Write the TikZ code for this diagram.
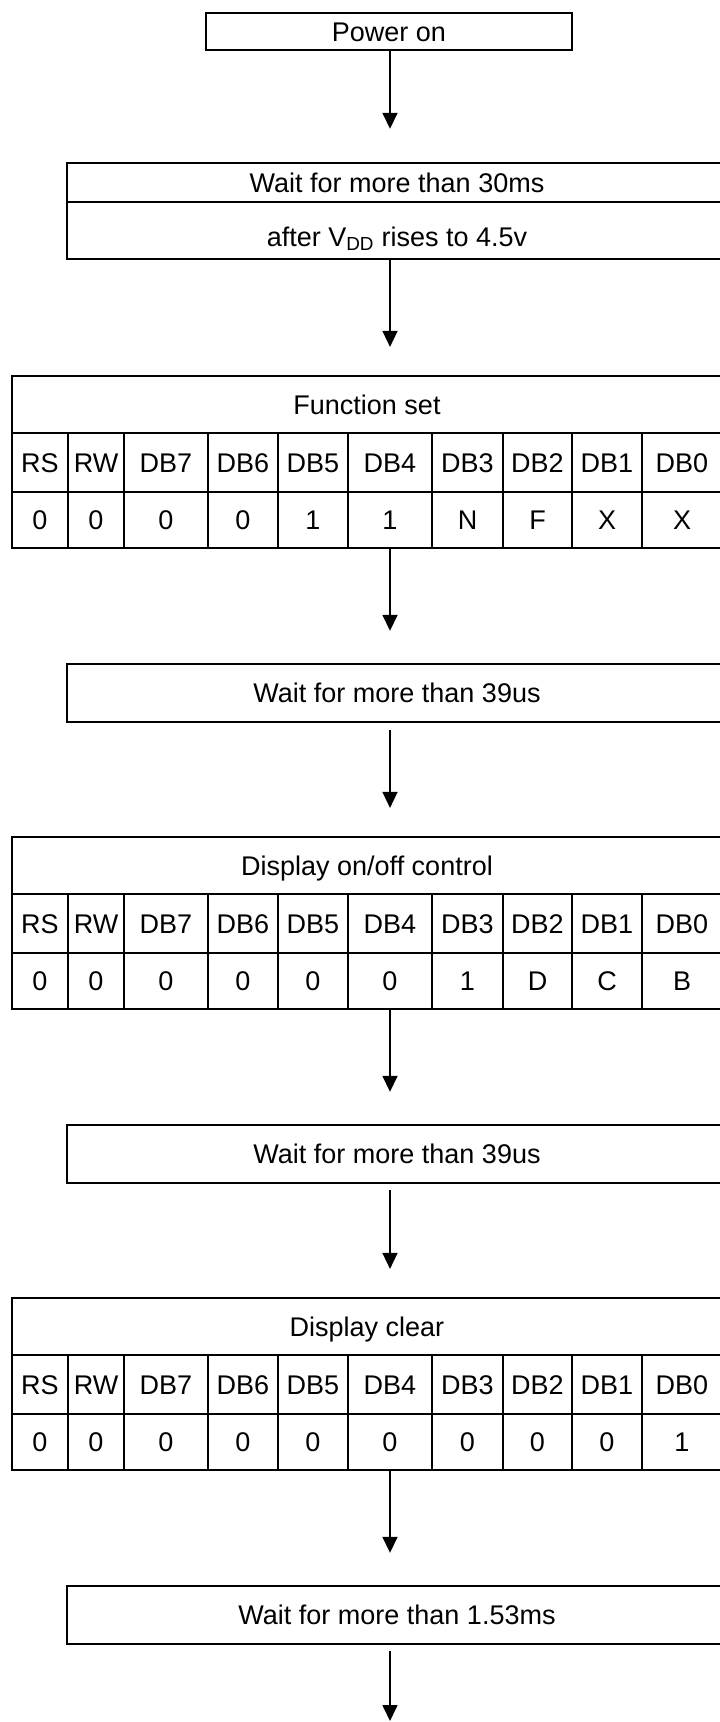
\documentclass[tikz,border=0pt]{standalone}
\usepackage{fontspec}
\setmainfont{Liberation Sans}
\usetikzlibrary{arrows.meta}
\def\bnds{{12,68,124,208,278,348,432,503,572,642,722}}
\newcommand\tabrow[4]{%
  \foreach \t [count=\i] in {#4} {
    \pgfmathsetmacro\xl{\bnds[\i-1]}
    \pgfmathsetmacro\xr{\bnds[\i]}
    \pgfmathsetmacro\w{\xr-\xl}
    \pgfmathsetmacro\xc{(\xl+\xr)/2}
    \pgfmathsetmacro\yc{#2+#3/2}
    \node[cell,minimum width=\w pt,minimum height=#3 pt] (#1\i) at (\xc,\yc) {\t};
  }}
\newcommand\cmdtable[4]{% prefix, top, title, values
  \pgfmathsetmacro\ytc{#2+28.5}
  \node[cell,minimum width=710pt,minimum height=57pt] (#1t) at (367,\ytc) {#3};
  \pgfmathsetmacro\yh{#2+57}
  \tabrow{#1h}{\yh}{59}{RS,RW,DB7,DB6,DB5,DB4,DB3,DB2,DB1,DB0}
  \pgfmathsetmacro\yd{#2+116}
  \tabrow{#1v}{\yd}{56}{#4}
}
\begin{document}
\begin{tikzpicture}[x=1pt,y=-1pt,
  box/.style={draw,line width=2.4pt,inner sep=0pt,text height=19.5pt,text depth=0pt,font=\fontsize{27}{32}\selectfont},
  cell/.style={draw,line width=2.2pt,inner sep=0pt,text height=19.5pt,text depth=0pt,font=\fontsize{27}{32}\selectfont},
  flow/.style={line width=1.6pt,-{Triangle[width=15pt,length=16pt]}}]
\useasboundingbox (0,0) rectangle (720,1722);
\clip (0,0) rectangle (720,1722);
\coordinate (ax) at (390,0);

\node[box,minimum width=366pt,minimum height=37pt] (pwr) at (389,31.5) {Power on};

\node[box,minimum width=660pt,minimum height=39pt] (w1a) at (397,182.5) {Wait for more than 30ms};
\node[box,minimum width=660pt,minimum height=57pt,text height=31.5pt] (w1b) at (397,230.5) {after V\textsubscript{DD} rises to 4.5v};

\cmdtable{a}{376}{Function set}{0,0,0,0,1,1,N,F,X,X}

\node[box,minimum width=660pt,minimum height=58pt] (w2) at (397,693) {Wait for more than 39us};

\cmdtable{b}{837}{Display on/off control}{0,0,0,0,0,0,1,D,C,B}

\node[box,minimum width=660pt,minimum height=58pt] (w3) at (397,1154) {Wait for more than 39us};

\cmdtable{c}{1298}{Display clear}{0,0,0,0,0,0,0,0,0,1}

\node[box,minimum width=660pt,minimum height=58pt] (w4) at (397,1615) {Wait for more than 1.53ms};

\coordinate (fin) at (390,1721);

\draw[flow,shorten >=33pt] (ax |- pwr.south) -- (ax |- w1a.north);
\draw[flow,shorten >=28pt] (ax |- w1b.south) -- (ax |- at.north);
\draw[flow,shorten >=32pt] (ax |- av6.south) -- (ax |- w2.north);
\draw[flow,shorten <=7pt,shorten >=28pt] (ax |- w2.south) -- (ax |- bt.north);
\draw[flow,shorten >=32pt] (ax |- bv6.south) -- (ax |- w3.north);
\draw[flow,shorten <=6pt,shorten >=28pt] (ax |- w3.south) -- (ax |- ct.north);
\draw[flow,shorten >=32pt] (ax |- cv6.south) -- (ax |- w4.north);
\draw[flow,shorten <=6pt] (ax |- w4.south) -- (fin);
\end{tikzpicture}
\end{document}
